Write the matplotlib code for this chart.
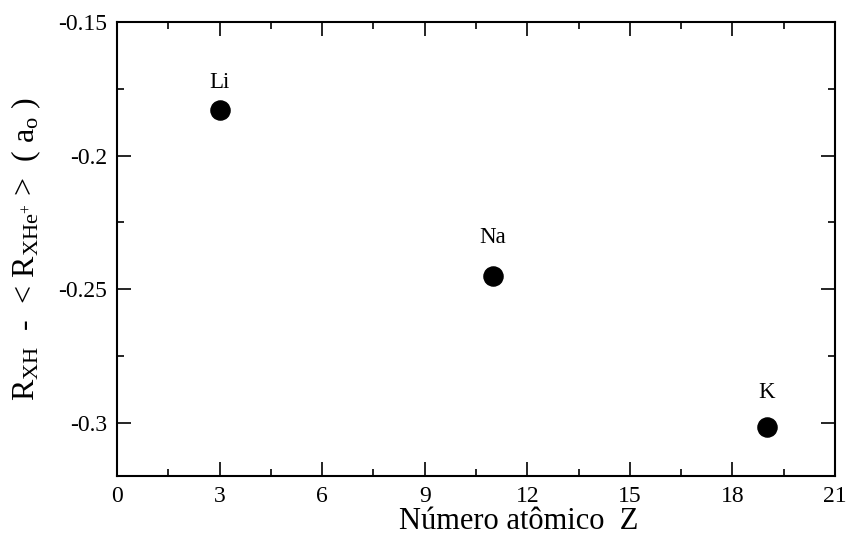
import matplotlib.pyplot as plt
from matplotlib.ticker import MultipleLocator

plt.rcParams['font.family'] = ['Liberation Serif', 'DejaVu Serif']
plt.rcParams['mathtext.fontset'] = 'custom'
plt.rcParams['mathtext.rm'] = 'Liberation Serif'
plt.rcParams['mathtext.it'] = 'Liberation Serif:italic'

elements = ['Li', 'Na', 'K']
atomic_z = [3, 11, 19]
delta_r = [-0.183, -0.245, -0.3015]

fig = plt.figure(figsize=(8.5, 5.35), dpi=100)
ax = fig.add_axes([117 / 850, 1 - 476 / 535, 718 / 850, 454 / 535])

ax.scatter(atomic_z, delta_r, s=190, color='black', zorder=3)

# label offsets in points
offsets = {'Li': 12, 'Na': 20, 'K': 17}
for name, x, y in zip(elements, atomic_z, delta_r):
    ax.annotate(name, (x, y), xytext=(0, offsets[name]), textcoords='offset points',
                ha='center', va='bottom', fontsize=16.5)

ax.set_xlim(0, 21)
ax.set_ylim(-0.32, -0.15)
ax.xaxis.set_major_locator(MultipleLocator(3))
ax.xaxis.set_minor_locator(MultipleLocator(1.5))
ax.yaxis.set_minor_locator(MultipleLocator(0.025))
ax.set_yticks([-0.3, -0.25, -0.2, -0.15])
ax.set_yticklabels(['-0.3', '-0.25', '-0.2', '-0.15'])

ax.tick_params(which='both', direction='in', top=True, right=True, labelsize=17)
ax.tick_params(which='major', length=10, width=1.2, pad=7)
ax.tick_params(which='minor', length=5, width=1.2)
for s in ax.spines.values():
    s.set_linewidth(1.5)

ax.set_xlabel('Número atômico  Z', fontsize=22)
ax.xaxis.set_label_coords(0.56, -0.068, transform=ax.transAxes)
ax.xaxis.label.set_va('top')
ax.set_ylabel(r'$\mathrm{R_{XH}}$  -  < $\mathrm{R_{XHe^{+}}}$ >  ( $\mathrm{a_o}$ )',
              fontsize=23, labelpad=11)

fig.savefig('out.png', dpi=100)
